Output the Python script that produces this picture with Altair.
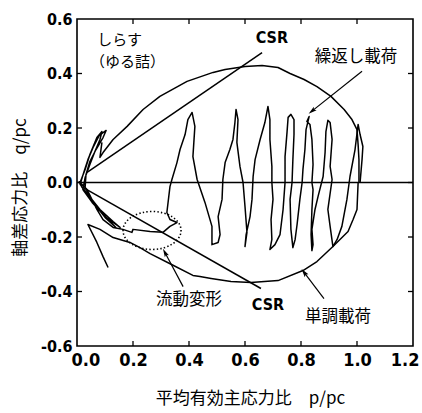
import math
import altair as alt
import pandas as pd

# ---------------- data ----------------
X_TICKS = [0.0, 0.2, 0.4, 0.6, 0.8, 1.0, 1.2]
Y_TICKS = [-0.6, -0.4, -0.2, 0.0, 0.2, 0.4, 0.6]

# cyclic loading path (繰返し載荷), from p/pc = 1.0 leftwards
cyc_p = [1.011, 1.018, 1.021, 1.011, 1.004,
         0.993, 0.975, 0.964, 0.946, 0.929, 0.914,
         0.904, 0.896, 0.911, 0.904, 0.911, 0.904, 0.896,
         0.889, 0.886, 0.879, 0.861, 0.850, 0.839, 0.843, 0.839,
         0.836, 0.839, 0.843, 0.839, 0.843, 0.839, 0.832, 0.821, 0.829,
         0.818, 0.814, 0.807, 0.804, 0.796, 0.786, 0.779, 0.771,
         0.764, 0.761, 0.768, 0.771, 0.775, 0.775, 0.764,
         0.754, 0.750, 0.743, 0.743, 0.736, 0.725, 0.707, 0.689,
         0.696, 0.693, 0.700, 0.696, 0.696, 0.689, 0.689, 0.682,
         0.671, 0.654, 0.636, 0.629, 0.625, 0.618, 0.604, 0.600,
         0.607, 0.600, 0.593, 0.582, 0.571, 0.575, 0.568,
         0.564, 0.557, 0.546, 0.529, 0.521, 0.518, 0.504, 0.511, 0.504, 0.482,
         0.482, 0.457, 0.429, 0.414, 0.421, 0.411,
         0.396, 0.386, 0.368, 0.357, 0.339, 0.332, 0.321, 0.332, 0.357, 0.332, 0.307]
cyc_q = [0.000, 0.084, 0.132, 0.176, 0.213,
         0.121, 0.022, -0.062, -0.161, -0.209, -0.235,
         -0.161, -0.099, 0.011, 0.059, 0.158, 0.220, 0.228,
         0.187, 0.110, 0.022, -0.051, -0.099, -0.172, -0.228, -0.250,
         -0.191, -0.099, -0.026, 0.000, 0.066, 0.158, 0.213, 0.224, 0.242,
         0.194, 0.121, 0.048, 0.000, -0.062, -0.154, -0.209, -0.239,
         -0.172, -0.062, 0.000, 0.084, 0.176, 0.231, 0.250,
         0.239, 0.183, 0.095, 0.000, -0.099, -0.191, -0.228, -0.246,
         -0.209, -0.136, -0.062, 0.000, 0.059, 0.158, 0.231, 0.279,
         0.220, 0.158, 0.084, 0.022, -0.062, -0.125, -0.191, -0.235,
         -0.183, -0.088, 0.000, 0.059, 0.147, 0.231, 0.268,
         0.220, 0.158, 0.121, 0.073, 0.011, -0.062, -0.125, -0.191, -0.220, -0.228,
         -0.161, -0.073, 0.011, 0.095, 0.206, 0.257,
         0.231, 0.176, 0.121, 0.073, 0.011, -0.015, -0.110, -0.136, -0.147, -0.161, -0.183]

# flow deformation (流動変形) towards the origin
flow_p = [0.261, 0.200, 0.196, 0.164, 0.129, 0.093, 0.071, 0.036, 0.011]
flow_q = [-0.180, -0.172, -0.183, -0.172, -0.165, -0.136, -0.099, -0.026, 0.000]

# small cycles near the origin
orig_p = [0.029, 0.046, 0.071, 0.089, 0.082, 0.064, 0.046, 0.029, 0.021, 0.054, 0.100,
          0.154, 0.129, 0.082, 0.039, 0.011, 0.025, 0.039, 0.057, 0.079, 0.104, 0.093,
          0.068, 0.046, 0.032, 0.029, 0.064, 0.111, 0.139, 0.100, 0.057, 0.018, 0.007]
orig_q = [0.048, 0.103, 0.165, 0.187, 0.158, 0.114, 0.066, 0.018, -0.026, -0.073, -0.125,
          -0.165, -0.143, -0.099, -0.044, -0.007, 0.040, 0.084, 0.128, 0.172, 0.191, 0.165,
          0.121, 0.077, 0.029, -0.018, -0.081, -0.136, -0.165, -0.128, -0.073, -0.018, 0.004]

# monotonic loading (単調載荷), compression branch
mono_c_p = [1.007, 1.007, 1.004, 1.000, 0.982, 0.954, 0.907, 0.857, 0.811, 0.761, 0.718,
            0.661, 0.600, 0.529, 0.486, 0.393, 0.296, 0.236, 0.179, 0.129, 0.093, 0.082, 0.089]
mono_c_q = [0.000, 0.084, 0.139, 0.194, 0.231, 0.268, 0.316, 0.352, 0.378, 0.400, 0.422,
            0.429, 0.426, 0.415, 0.404, 0.371, 0.316, 0.268, 0.206, 0.158, 0.110, 0.092, 0.147]

# monotonic loading, extension branch
mono_e_p = [1.004, 1.000, 0.986, 0.968, 0.950, 0.914, 0.857, 0.807, 0.718, 0.621, 0.550,
            0.479, 0.439, 0.414, 0.336, 0.261, 0.225, 0.189, 0.129, 0.082, 0.039, 0.071,
            0.093, 0.111]
mono_e_q = [0.000, -0.099, -0.136, -0.180, -0.198, -0.235, -0.290, -0.323, -0.360, -0.367,
            -0.363, -0.352, -0.345, -0.341, -0.300, -0.261, -0.239, -0.220, -0.202, -0.172,
            -0.154, -0.220, -0.272, -0.312]

# CSR lines
csr_u_p = [0.036, 0.661]
csr_u_q = [0.037, 0.477]
csr_l_p = [0.021, 0.657]
csr_l_q = [-0.018, -0.389]

# dotted ellipse centre
ell_p = [0.268]
ell_q = [-0.176]

# annotation arrows (tail -> head)
arr_p0 = [1.018, 0.379, 0.882]
arr_q0 = [0.408, -0.382, -0.426]
arr_p1 = [0.839, 0.314, 0.811]
arr_q1 = [0.262, -0.257, -0.330]

# annotation texts
small_txt = ["しらす", "（ゆる詰）"]
small_p = [0.152, 0.180]
small_q = [0.522, 0.442]
big_txt = ["繰返し載荷", "流動変形", "単調載荷"]
big_p = [0.996, 0.400, 0.932]
big_q = [0.459, -0.433, -0.495]
csr_txt = ["CSR", "CSR"]
csr_p = [0.696, 0.682]
csr_q = [0.532, -0.448]

# ---------------- chart ----------------
W, H = 336, 327
PX_X = W / 1.2
PX_Y = H / 1.2

xs = alt.Scale(domain=[0, 1.2], nice=False, zero=False)
ys = alt.Scale(domain=[-0.6, 0.6], nice=False, zero=False)
NUMFONT = "Liberation Sans Narrow, DejaVu Sans Condensed, sans-serif"
JPFONT = "Noto Sans CJK JP"

xaxis = alt.Axis(values=X_TICKS, format=".1f", ticks=False, tickSize=0, domain=False,
                 grid=False, labelFont=NUMFONT, labelFontSize=18, labelFontWeight="bold",
                 labelColor="black", labelPadding=5, labelFlush=True, labelFlushOffset=6,
                 title="平均有効主応力比　p/pc", titleFont=JPFONT, titleFontSize=17,
                 titleFontWeight="normal", titleColor="black",
                 titleX=173, titleY=52, titleBaseline="middle", titleAlign="center")
yaxis = alt.Axis(values=Y_TICKS, ticks=False, tickSize=0, domain=False, grid=False,
                 labelExpr="datum.value < -0.001 ? '-' + format(-datum.value, '.1f') : format(abs(datum.value), '.1f')",
                 labelFont=NUMFONT, labelFontSize=16, labelFontWeight="bold",
                 labelColor="black", labelPadding=5, labelFlush=False,
                 title="軸差応力比　q/pc", titleFont=JPFONT, titleFontSize=17,
                 titleFontWeight="normal", titleColor="black", titleAngle=270,
                 titleX=-57, titleY=168, titleBaseline="middle", titleAlign="center")


def X(field="p:Q"):
    return alt.X(field, scale=xs, axis=xaxis)


def Y(field="q:Q"):
    return alt.Y(field, scale=ys, axis=yaxis)


rows = []
for name, ps, qs in [
    ("cyc", cyc_p + flow_p + orig_p, cyc_q + flow_q + orig_q),
    ("mono_c", mono_c_p, mono_c_q),
    ("mono_e", mono_e_p, mono_e_q),
    ("csr_u", csr_u_p, csr_u_q),
    ("csr_l", csr_l_p, csr_l_q),
]:
    for i, (p, q) in enumerate(zip(ps, qs)):
        rows.append({"series": name, "i": i, "p": p, "q": q})
lines_df = pd.DataFrame(rows)

lines = alt.Chart(lines_df).mark_line(color="black", strokeWidth=1.5, strokeJoin="round").encode(
    x=X(), y=Y(), detail="series:N", order="i:Q",
)

zero = alt.Chart(pd.DataFrame({"q": [0.0]})).mark_rule(color="black", strokeWidth=1.3).encode(y=Y())

ellipse = alt.Chart(pd.DataFrame({"p": ell_p, "q": ell_q})).mark_point(
    shape="M-1,0A1,0.655 0 1,1 1,0A1,0.655 0 1,1 -1,0Z",
    size=58 * 58, filled=False, stroke="black", strokeWidth=1.6,
    strokeDash=[1.4, 2.2], opacity=1,
).encode(x=X(), y=Y())

arr_rows = []
for k in range(len(arr_p0)):
    dx = (arr_p1[k] - arr_p0[k]) * PX_X
    dy = (arr_q1[k] - arr_q0[k]) * PX_Y
    ang = math.degrees(math.atan2(dx, dy)) % 360
    arr_rows.append({"k": k, "p": arr_p0[k], "q": arr_q0[k], "p2": arr_p1[k], "q2": arr_q1[k], "ang": ang})
arr_df = pd.DataFrame(arr_rows)
shafts = alt.Chart(arr_df).mark_rule(color="black", strokeWidth=1.2).encode(
    x=X(), y=Y(), x2="p2:Q", y2="q2:Q")
heads = alt.Chart(arr_df).mark_point(
    shape="M0,-1L0.55,1L0,0.6L-0.55,1Z", size=70, filled=True, color="black", opacity=1
).encode(x=X("p2:Q"), y=Y("q2:Q"), angle=alt.Angle("ang:Q", scale=None))

small_lbl = alt.Chart(pd.DataFrame({"t": small_txt, "p": small_p, "q": small_q})).mark_text(
    font=JPFONT, fontSize=15, color="black", align="center", baseline="middle"
).encode(x=X(), y=Y(), text="t:N")
big_lbl = alt.Chart(pd.DataFrame({"t": big_txt, "p": big_p, "q": big_q})).mark_text(
    font=JPFONT, fontSize=16.5, color="black", align="center", baseline="middle"
).encode(x=X(), y=Y(), text="t:N")
csr_lbl = alt.Chart(pd.DataFrame({"t": csr_txt, "p": csr_p, "q": csr_q})).mark_text(
    font=NUMFONT, fontSize=16, fontWeight="bold", color="black", align="center", baseline="middle"
).encode(x=X(), y=Y(), text="t:N")

# inward ticks on the four sides
xt = pd.DataFrame({"p": X_TICKS[1:-1]})
yt = pd.DataFrame({"q": Y_TICKS[1:-1]})
TL = 5
t_bottom = alt.Chart(xt).mark_rule(color="black", strokeWidth=1.3).encode(
    x=X(), y=alt.value(H), y2=alt.value(H - TL))
t_top = alt.Chart(xt).mark_rule(color="black", strokeWidth=1.3).encode(
    x=X(), y=alt.value(0), y2=alt.value(TL))
t_left = alt.Chart(yt).mark_rule(color="black", strokeWidth=1.3).encode(
    y=Y(), x=alt.value(0), x2=alt.value(TL))
t_right = alt.Chart(yt).mark_rule(color="black", strokeWidth=1.3).encode(
    y=Y(), x=alt.value(W), x2=alt.value(W - TL))

chart = alt.layer(
    lines, zero, ellipse, shafts, heads, small_lbl, big_lbl, csr_lbl,
    t_bottom, t_top, t_left, t_right,
).properties(
    width=W, height=H,
    autosize=alt.AutoSizeParams(type="none"),
    padding={"left": 77, "top": 19, "right": 9, "bottom": 67},
    background="white",
).configure_view(stroke="black", strokeWidth=1.6)

chart.save("out.html", embed_options={"renderer": "svg", "actions": False})
